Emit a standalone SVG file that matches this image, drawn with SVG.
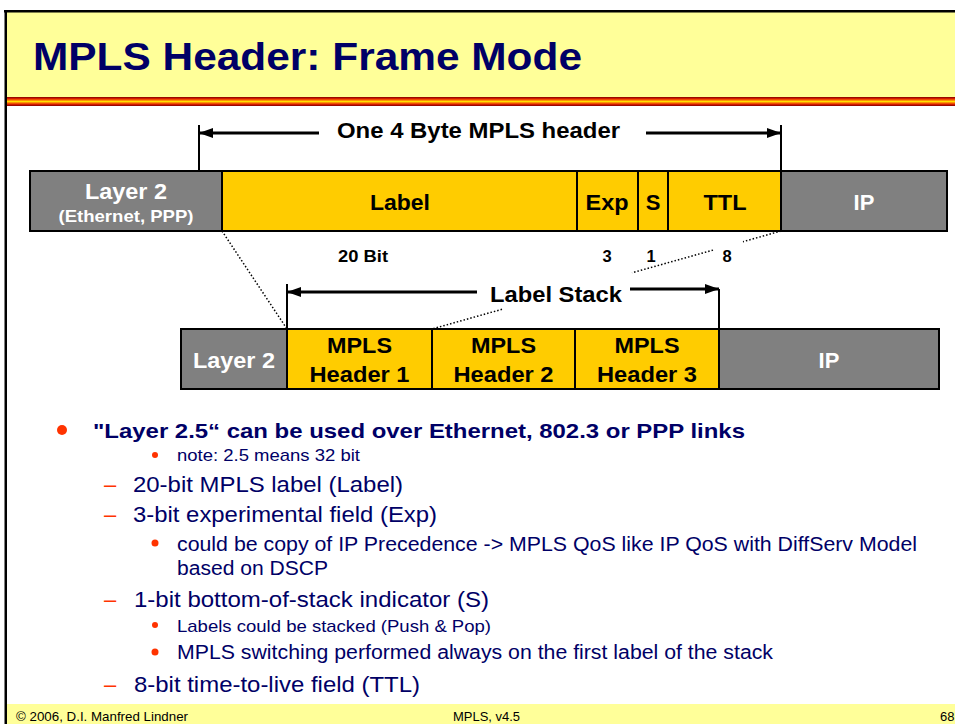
<svg xmlns="http://www.w3.org/2000/svg" width="955" height="724" viewBox="0 0 955 724">
<defs>
<linearGradient id="stripe" x1="0" y1="0" x2="0" y2="1">
<stop offset="0" stop-color="#800000"/>
<stop offset="0.2" stop-color="#E02000"/>
<stop offset="0.4" stop-color="#FF9900"/>
<stop offset="0.5" stop-color="#FFE000"/>
<stop offset="0.6" stop-color="#FF9900"/>
<stop offset="0.8" stop-color="#E02000"/>
<stop offset="1" stop-color="#800000"/>
</linearGradient>
<marker id="ah" markerUnits="userSpaceOnUse" markerWidth="14" markerHeight="10" refX="14" refY="5" orient="auto">
<path d="M0,0 L14,5 L0,10 z" fill="#000"/>
</marker>
</defs>
<style>
.grey{fill:#808080;stroke:#000;stroke-width:2}
.yel{fill:#FFCC00;stroke:#000;stroke-width:2}
.bw{font-family:"Liberation Sans",Arial,sans-serif;font-weight:bold;fill:#fff;text-anchor:middle}
.bk{font-family:"Liberation Sans",Arial,sans-serif;font-weight:bold;fill:#000;text-anchor:middle}
.lbl{font-family:"Liberation Sans",Arial,sans-serif;font-weight:bold;fill:#000}
.dot{fill:none;stroke:#000;stroke-width:1.5;stroke-dasharray:1.5 2}
.arr{fill:none;stroke:#000;stroke-width:3}
.vl{fill:none;stroke:#000;stroke-width:2}
.txt{font-family:"Liberation Sans",Arial,sans-serif;fill:#000066}
.red{fill:#FF3300}
.foot{font-family:"Liberation Sans",Arial,sans-serif;font-size:13px;fill:#000}
</style>

<!-- slide frame -->
<rect x="7" y="12" width="948" height="85" fill="#FFFF99"/>
<rect x="7" y="97" width="948" height="9" fill="url(#stripe)"/>
<rect x="7" y="704" width="948" height="20" fill="#FFFF99"/>
<rect x="4" y="10" width="951" height="2.5" fill="#000"/>
<rect x="4.5" y="10" width="2.5" height="714" fill="#000"/>
<text x="33" y="70" font-family="Liberation Sans, Arial, sans-serif" font-weight="bold" font-size="39" fill="#000066" textLength="549" lengthAdjust="spacingAndGlyphs">MPLS Header: Frame Mode</text>

<!-- top frame: one 4 byte header -->
<g id="top-layer2"><rect class="grey" x="30" y="171" width="192" height="60"/>
<text class="bw" x="126" y="199" font-size="22" textLength="82" lengthAdjust="spacingAndGlyphs">Layer 2</text>
<text class="bw" x="126" y="222" font-size="17" textLength="135" lengthAdjust="spacingAndGlyphs">(Ethernet, PPP)</text></g>
<g id="top-label"><rect class="yel" x="222" y="171" width="355" height="60"/>
<text class="bk" x="400" y="210" font-size="22" textLength="60" lengthAdjust="spacingAndGlyphs">Label</text></g>
<g id="top-exp"><rect class="yel" x="577" y="171" width="61" height="60"/>
<text class="bk" x="607" y="210" font-size="22" textLength="43" lengthAdjust="spacingAndGlyphs">Exp</text></g>
<g id="top-s"><rect class="yel" x="638" y="171" width="30" height="60"/>
<text class="bk" x="653" y="210" font-size="22">S</text></g>
<g id="top-ttl"><rect class="yel" x="668" y="171" width="113" height="60"/>
<text class="bk" x="725" y="210" font-size="22" textLength="43" lengthAdjust="spacingAndGlyphs">TTL</text></g>
<g id="top-ip"><rect class="grey" x="781" y="171" width="166" height="60"/>
<text class="bw" x="864" y="210" font-size="22">IP</text></g>

<g id="bit-labels">
<text class="lbl" x="338" y="262" font-size="16.5" textLength="50" lengthAdjust="spacingAndGlyphs">20 Bit</text>
<text class="bk" x="607" y="262" font-size="16.5">3</text>
<text class="bk" x="651" y="262" font-size="16.5">1</text>
<text class="bk" x="727" y="262" font-size="16.5">8</text>
</g>

<!-- bottom frame: label stack -->
<g id="bot-layer2"><rect class="grey" x="181" y="329" width="106" height="60"/>
<text class="bw" x="234" y="368" font-size="22" textLength="82" lengthAdjust="spacingAndGlyphs">Layer 2</text></g>
<g id="bot-h1"><rect class="yel" x="287" y="329" width="145" height="60"/>
<text class="bk" x="359.5" y="353" font-size="22" textLength="65" lengthAdjust="spacingAndGlyphs">MPLS</text>
<text class="bk" x="359.5" y="382" font-size="22" textLength="100" lengthAdjust="spacingAndGlyphs">Header 1</text></g>
<g id="bot-h2"><rect class="yel" x="432" y="329" width="143" height="60"/>
<text class="bk" x="503.5" y="353" font-size="22" textLength="65" lengthAdjust="spacingAndGlyphs">MPLS</text>
<text class="bk" x="503.5" y="382" font-size="22" textLength="100" lengthAdjust="spacingAndGlyphs">Header 2</text></g>
<g id="bot-h3"><rect class="yel" x="575" y="329" width="144" height="60"/>
<text class="bk" x="647" y="353" font-size="22" textLength="65" lengthAdjust="spacingAndGlyphs">MPLS</text>
<text class="bk" x="647" y="382" font-size="22" textLength="100" lengthAdjust="spacingAndGlyphs">Header 3</text></g>
<g id="bot-ip"><rect class="grey" x="719" y="329" width="220" height="60"/>
<text class="bw" x="829" y="368" font-size="22">IP</text></g>

<!-- connectors -->
<g id="connectors">
<line class="vl" x1="199" y1="125" x2="199" y2="171"/>
<line class="vl" x1="781" y1="125" x2="781" y2="171"/>
<line class="arr" x1="319" y1="133" x2="199" y2="133" marker-end="url(#ah)"/>
<line class="arr" x1="646" y1="133" x2="781" y2="133" marker-end="url(#ah)"/>
<line class="vl" x1="287" y1="284" x2="287" y2="329"/>
<line class="vl" x1="719" y1="289" x2="719" y2="329"/>
<line class="arr" x1="477" y1="292" x2="287" y2="292" marker-end="url(#ah)"/>
<line class="arr" x1="630" y1="289" x2="719" y2="289" marker-end="url(#ah)"/>
<line class="dot" x1="222" y1="231" x2="287" y2="329"/>
<line class="dot" x1="781" y1="231" x2="743" y2="241.7"/>
<line class="dot" x1="713" y1="250.1" x2="632" y2="272.8"/>
<line class="dot" x1="502" y1="309.3" x2="432" y2="329"/>
</g>
<text class="lbl" x="337" y="138" font-size="22" textLength="283" lengthAdjust="spacingAndGlyphs">One 4 Byte MPLS header</text>
<text class="lbl" x="490" y="302" font-size="22" textLength="132" lengthAdjust="spacingAndGlyphs">Label Stack</text>

<!-- bullet text -->
<g id="bullets">
<circle class="red" cx="62" cy="430" r="5"/>
<text class="txt" x="93" y="438" font-size="21" font-weight="bold" textLength="652" lengthAdjust="spacingAndGlyphs">"Layer 2.5“ can be used over Ethernet, 802.3 or PPP links</text>
<circle class="red" cx="155" cy="455" r="3"/>
<text class="txt" x="177" y="461" font-size="17" textLength="183" lengthAdjust="spacingAndGlyphs">note: 2.5 means 32 bit</text>
<text class="red" x="104" y="492" font-family="Liberation Sans, Arial, sans-serif" font-size="22">–</text>
<text class="txt" x="133" y="492" font-size="22" textLength="270" lengthAdjust="spacingAndGlyphs">20-bit MPLS label (Label)</text>
<text class="red" x="104" y="522" font-family="Liberation Sans, Arial, sans-serif" font-size="22">–</text>
<text class="txt" x="133" y="522" font-size="22" textLength="304" lengthAdjust="spacingAndGlyphs">3-bit experimental field (Exp)</text>
<circle class="red" cx="155" cy="543" r="3.5"/>
<text class="txt" x="177" y="551" font-size="19.5" textLength="740" lengthAdjust="spacingAndGlyphs">could be copy of IP Precedence -&gt; MPLS QoS like IP QoS with DiffServ Model</text>
<text class="txt" x="177" y="575" font-size="19.5" textLength="151" lengthAdjust="spacingAndGlyphs">based on DSCP</text>
<text class="red" x="104" y="607" font-family="Liberation Sans, Arial, sans-serif" font-size="22">–</text>
<text class="txt" x="134" y="607" font-size="22" textLength="355" lengthAdjust="spacingAndGlyphs">1-bit bottom-of-stack indicator (S)</text>
<circle class="red" cx="155" cy="625" r="3"/>
<text class="txt" x="177" y="632" font-size="17" textLength="314" lengthAdjust="spacingAndGlyphs">Labels could be stacked (Push &amp; Pop)</text>
<circle class="red" cx="155" cy="652" r="3.5"/>
<text class="txt" x="177" y="659" font-size="19.5" textLength="596" lengthAdjust="spacingAndGlyphs">MPLS switching performed always on the first label of the stack</text>
<text class="red" x="104" y="692" font-family="Liberation Sans, Arial, sans-serif" font-size="22">–</text>
<text class="txt" x="134" y="692" font-size="22" textLength="286" lengthAdjust="spacingAndGlyphs">8-bit time-to-live field (TTL)</text>
</g>

<!-- footer -->
<text class="foot" x="16" y="721" textLength="172" lengthAdjust="spacingAndGlyphs">© 2006, D.I. Manfred Lindner</text>
<text class="foot" x="453" y="721" textLength="67" lengthAdjust="spacingAndGlyphs">MPLS, v4.5</text>
<text class="foot" x="940" y="721">68</text>
</svg>
